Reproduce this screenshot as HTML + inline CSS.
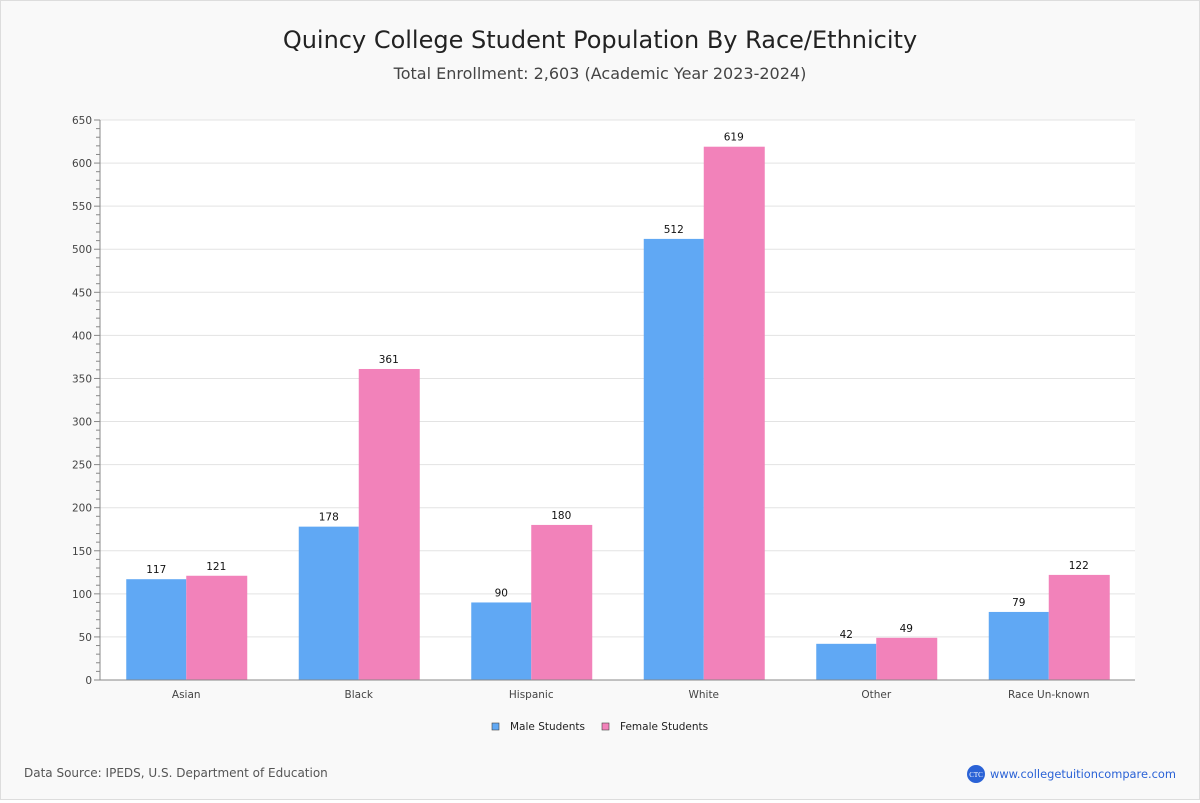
<!DOCTYPE html>
<html><head><meta charset="utf-8"><style>
body{margin:0;background:#fff;}
#wrap{position:relative;width:1198px;height:798px;border:1px solid #ddd;background:#f9f9f9;font-family:"DejaVu Sans","Liberation Sans",sans-serif;}
</style></head><body>
<div id="wrap">
<svg id="chart" width="1198" height="798"></svg>
</div>
<script>
const categories=["Asian","Black","Hispanic","White","Other","Race Un-known"];
const maleValues=[117,178,90,512,42,79];
const femaleValues=[121,361,180,619,49,122];
const yTicks=[0,50,100,150,200,250,300,350,400,450,500,550,600,650];
const NS="http://www.w3.org/2000/svg";
const svg=document.getElementById('chart');
const L=99,R=1134,T=119,B=679,YMAX=650;
const y=v=>B-(v/YMAX)*(B-T);
const bw=(R-L)/categories.length;
const x=i=>L+bw*i+bw/2;
function mk(tag,attrs,txt){const e=document.createElementNS(NS,tag);for(const k in attrs)e.setAttribute(k,attrs[k]);if(txt!==undefined)e.textContent=txt;svg.appendChild(e);return e;}
let e;
e=mk('text',{x:599,y:47,'text-anchor':'middle','font-size':24,fill:'#222'},'Quincy College Student Population By Race/Ethnicity');


e=mk('text',{x:599,y:78,'text-anchor':'middle','font-size':16,fill:'#444'},'Total Enrollment: 2,603 (Academic Year 2023-2024)');


e=mk('rect',{x:L,y:T,width:R-L,height:B-T,fill:'#fff'});


yTicks.forEach(v=>{
 if(v>0){e=mk('line',{x1:L,x2:R,y1:y(v),y2:y(v),stroke:'#e3e3e3'});
 
 }
 e=mk('text',{x:L-8,y:y(v)+4,'text-anchor':'end','font-size':10.5,fill:'#444'},v);
 
 
});
for(let v=0;v<=YMAX;v+=10){
 e=mk('line',{x1:L-(v%50===0?6:4),x2:L,y1:y(v),y2:y(v),stroke:'#888'});
 
 
}
const w=60;
categories.forEach((c,i)=>{
 const cx=x(i);
 e=mk('rect',{x:cx-w,y:y(maleValues[i]),width:w,height:B-y(maleValues[i]),fill:'#60a8f4'});
 
 
 e=mk('rect',{x:cx,y:y(femaleValues[i]),width:w+1,height:B-y(femaleValues[i]),fill:'#f282ba'});
 
 
 e=mk('text',{x:cx-w/2,y:y(maleValues[i])-6,'text-anchor':'middle','font-size':10.5,fill:'#111'},maleValues[i]);
 
 
 e=mk('text',{x:cx+w/2,y:y(femaleValues[i])-6,'text-anchor':'middle','font-size':10.5,fill:'#111'},femaleValues[i]);
 
 
 e=mk('text',{x:cx,y:B+18,'text-anchor':'middle','font-size':10.5,fill:'#444'},c);
 
 
});
e=mk('line',{x1:L,x2:R,y1:B,y2:B,stroke:'#888'});


e=mk('line',{x1:L,x2:L,y1:T,y2:B,stroke:'#888'});


e=mk('rect',{x:491,y:722,width:7,height:7,fill:'#60a8f4',stroke:'#444','stroke-width':0.6});


e=mk('text',{x:509,y:729,'font-size':10.5,fill:'#222'},'Male Students');


e=mk('rect',{x:601,y:722,width:7,height:7,fill:'#f282ba',stroke:'#444','stroke-width':0.6});


e=mk('text',{x:619,y:729,'font-size':10.5,fill:'#222'},'Female Students');


e=mk('text',{x:23,y:776,'font-size':12,fill:'#555'},'Data Source: IPEDS, U.S. Department of Education');


e=mk('circle',{cx:975,cy:773,r:9,fill:'#2a62d6'});


e=mk('text',{x:975,y:776,'text-anchor':'middle','font-size':7,fill:'#fff','font-family':'Liberation Serif'},'CTC');


e=mk('text',{x:989,y:777,'font-size':11.4,fill:'#2a62d6'},'www.collegetuitioncompare.com');


</script>
</body></html>
